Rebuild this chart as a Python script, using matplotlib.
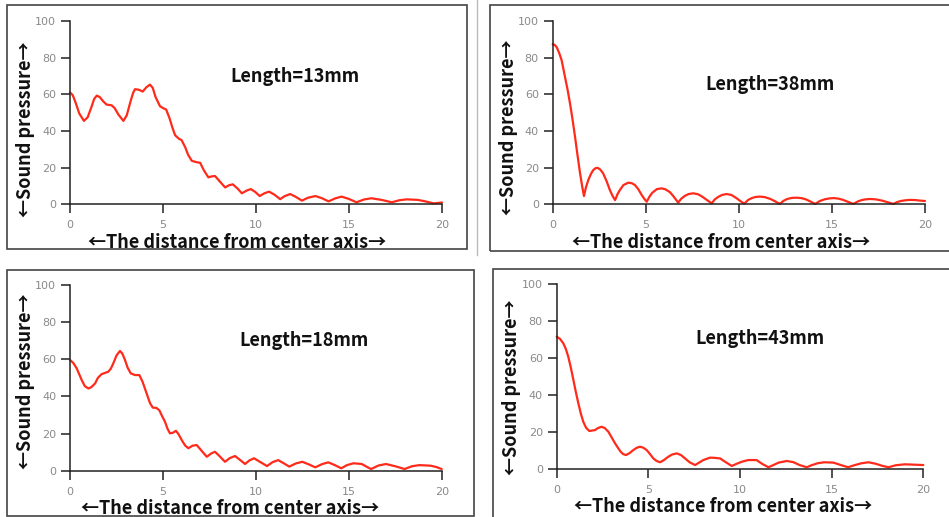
import matplotlib
matplotlib.use('Agg')
import matplotlib.pyplot as plt
from matplotlib.patches import Rectangle
from matplotlib.lines import Line2D

W, H = 949, 517
FONT = ['Noto Sans CJK KR', 'DejaVu Sans']

# sound pressure profiles across the distance from the center axis
x13 = [0, 0.15, 0.3, 0.5, 0.75, 0.95, 1.15, 1.3, 1.44, 1.6, 1.8, 1.97, 2.24, 2.4, 2.6, 2.87,
       3.05, 3.25, 3.4, 3.5, 3.7, 3.91, 4.1, 4.3, 4.45, 4.6, 4.84, 5.0, 5.17, 5.35, 5.5, 5.65,
       5.85, 6.0, 6.2, 6.35, 6.55, 6.8, 7.0, 7.2, 7.44, 7.65, 7.8, 8.05, 8.34, 8.55, 8.75, 9.0,
       9.24, 9.5, 9.72, 9.95, 10.2, 10.45, 10.7, 11.0, 11.3, 11.55, 11.84, 12.15, 12.47, 12.8,
       13.2, 13.55, 13.9, 14.25, 14.6, 15.0, 15.4, 15.8, 16.2, 16.75, 17.3, 17.7, 18.1, 18.7,
       19.1, 19.55, 20.0]
y13 = [61, 59.5, 55.5, 49.5, 45.5, 47.5, 53, 57.5, 59.3, 58.5, 56, 54.4, 54, 52.5, 49, 45.5,
       48.5, 56, 61, 62.8, 62.5, 61.5, 63.8, 65.3, 63.5, 58.5, 53.5, 52.5, 51.7, 47, 42, 37.7,
       35.8, 35, 31, 27, 23.7, 23, 22.6, 18.5, 14.7, 15.3, 15.4, 12.5, 9.2, 10.4, 10.9, 8.7,
       6.0, 7.5, 8.3, 6.8, 4.5, 6.0, 6.9, 5.2, 2.8, 4.5, 5.6, 4.0, 2.0, 3.6,
       4.5, 3.3, 1.6, 3.2, 4.2, 2.9, 1.1, 2.6, 3.3, 2.4, 1.1, 2.2, 2.7, 2.4,
       1.6, 0.5, 1.0]

x38 = [0, 0.1, 0.21, 0.35, 0.48, 0.66, 0.8, 0.93, 1.07, 1.2, 1.33, 1.47, 1.58, 1.68, 1.78,
       1.91, 2.05, 2.18, 2.3, 2.41, 2.55, 2.71, 2.9, 3.07, 3.22, 3.35, 3.48, 3.61, 3.8, 4.06,
       4.25, 4.42, 4.6, 4.78, 4.92, 5.05, 5.2, 5.35, 5.6, 5.85, 6.05, 6.3, 6.5, 6.74, 6.9, 7.1,
       7.3, 7.55, 7.8, 8.0, 8.25, 8.54, 8.7, 8.9, 9.1, 9.34, 9.6, 9.88, 10.05, 10.29, 10.5,
       10.7, 10.9, 11.14, 11.4, 11.7, 11.95, 12.2, 12.4, 12.6, 12.85, 13.1, 13.35, 13.6, 13.85,
       14.1, 14.35, 14.6, 14.85, 15.1, 15.35, 15.6, 15.9, 16.15, 16.4, 16.6, 16.8, 17.05,
       17.35, 17.7, 18.0, 18.3, 18.5, 18.7, 18.95, 19.2, 19.5, 19.75, 20.0]
y38 = [87.3, 87, 85.8, 82.5, 78.6, 69.5, 62.5, 55, 46, 36.8, 27, 16.9, 10, 4.5, 9,
       13.2, 16.5, 18.7, 19.7, 19.9, 19, 16.9, 12.5, 7.8, 4.5, 2.3, 5.5, 7.8, 10.5, 11.8,
       11.5, 10.5, 8.2, 5.1, 3.0, 1.4, 4.2, 6.3, 8.3, 8.7, 8.2, 6.6, 4.2, 0.9, 3.0, 4.6,
       5.6, 6.0, 5.5, 4.4, 2.6, 0.5, 2.6, 4.1, 5.1, 5.6, 5.1, 3.3, 2.0, 0.3, 2.4,
       3.4, 4.0, 4.2, 3.9, 2.9, 1.6, 0.2, 1.9, 2.9, 3.5, 3.6, 3.4, 2.7, 1.5,
       0.2, 1.8, 2.7, 3.2, 3.4, 3.1, 2.4, 1.2, 0.2, 1.6, 2.3, 2.7, 2.9,
       2.7, 2.0, 1.1, 0.2, 1.2, 1.8, 2.2, 2.4, 2.3, 2.0, 1.8]

x18 = [0, 0.18, 0.36, 0.63, 0.8, 0.99, 1.15, 1.35, 1.5, 1.7, 2.06, 2.2, 2.33, 2.5, 2.69, 2.82,
       2.96, 3.1, 3.27, 3.5, 3.73, 3.9, 4.12, 4.3, 4.45, 4.65, 4.81, 4.95, 5.11, 5.25, 5.38,
       5.55, 5.7, 5.85, 6.01, 6.2, 6.37, 6.6, 6.82, 7.1, 7.36, 7.6, 7.8, 8.05, 8.34, 8.6, 8.88,
       9.15, 9.42, 9.65, 9.9, 10.25, 10.6, 10.9, 11.2, 11.5, 11.8, 12.15, 12.5, 12.85, 13.2,
       13.55, 13.9, 14.25, 14.6, 14.9, 15.25, 15.7, 15.95, 16.2, 16.6, 17.0, 17.5, 18.0, 18.4,
       18.8, 19.4, 19.7, 20.0]
y18 = [59.6, 58, 55.1, 48.8, 45.5, 44.3, 45, 47, 50, 52, 53.3, 55, 57.8, 62, 64.5, 63,
       59.6, 55.5, 52.4, 51.5, 51.5, 48, 41.7, 36.5, 34, 33.8, 32.5, 29.5, 26.4, 22.5, 20.1,
       20.5, 21.5, 19.5, 16.5, 13.5, 12.1, 13.5, 13.8, 10.5, 7.5, 9.3, 10.2, 7.8, 4.8, 6.8, 7.9,
       5.8, 3.6, 5.5, 6.7, 4.6, 2.5, 4.6, 5.7, 4.0, 2.2, 3.9, 4.8, 3.4, 1.8,
       3.5, 4.5, 3.0, 1.3, 3.0, 4.0, 3.6, 2.2, 0.9, 2.8, 3.6, 2.4, 0.9, 2.4,
       3.0, 2.7, 2.0, 0.9]

x43 = [0, 0.18, 0.36, 0.5, 0.63, 0.77, 0.91, 1.05, 1.18, 1.32, 1.45, 1.6, 1.78, 2.09, 2.25,
       2.45, 2.62, 2.82, 3.0, 3.18, 3.35, 3.49, 3.63, 3.78, 3.98, 4.18, 4.36, 4.54, 4.72, 4.91,
       5.1, 5.27, 5.45, 5.64, 5.85, 6.09, 6.3, 6.55, 6.78, 7.0, 7.25, 7.55, 7.8, 8.0, 8.36, 8.6,
       8.91, 9.2, 9.55, 9.8, 10.1, 10.45, 10.9, 11.2, 11.55, 11.8, 12.1, 12.55, 12.9, 13.25,
       13.64, 13.9, 14.25, 14.6, 15.1, 15.5, 15.9, 16.2, 16.6, 17.0, 17.4, 17.75, 18.1, 18.5,
       19.0, 19.5, 20.0]
y43 = [71.7, 70.5, 68.1, 65, 60.9, 55, 48.3, 41.5, 35.7, 30, 25.7, 22.5, 20.7, 21.2, 22.3,
       23, 22.3, 20.3, 17.2, 14.1, 11.5, 9.5, 8.2, 7.7, 8.8, 10.4, 11.6, 12.2, 11.7, 10.4,
       8.1, 5.9, 4.5, 3.8, 5.0, 6.8, 8.0, 8.6, 7.7, 5.9, 3.8, 2.3, 3.8, 5.0, 6.3, 6.2,
       5.9, 4.0, 1.8, 2.9, 4.1, 5.0, 5.0, 3.0, 1.1, 2.2, 3.6, 4.5, 3.9, 2.3,
       1.1, 2.2, 3.3, 3.8, 3.6, 2.3, 1.1, 2.1, 3.2, 3.8, 3.0, 1.9, 1.1, 2.2,
       2.7, 2.5, 2.3]

lengths = ['Length=13mm', 'Length=38mm', 'Length=18mm', 'Length=43mm']
x_ticks = [0, 5, 10, 15, 20]
y_ticks = [0, 20, 40, 60, 80, 100]

# pixel layout of each panel: axes box (left, right, y0, y100), length label, x label, y label
panels = [
    dict(x=x13, y=y13, name=lengths[0], ax=(70, 442, 204.3, 21),
         tag=(295, 76), xl=(237, 242), yl=(26, 129)),
    dict(x=x38, y=y38, name=lengths[1], ax=(552.7, 925, 204.3, 21),
         tag=(770, 84), xl=(721, 243), yl=(508, 127)),
    dict(x=x18, y=y18, name=lengths[2], ax=(70, 441.7, 470.7, 285),
         tag=(304, 341), xl=(230, 508), yl=(26, 381)),
    dict(x=x43, y=y43, name=lengths[3], ax=(556.7, 923.3, 469.3, 284.3),
         tag=(760, 339), xl=(723, 506), yl=(512, 387)),
]

fig = plt.figure(figsize=(W / 100, H / 100), dpi=100)


def fx(px):
    return px / W


def fy(py):
    return 1 - py / H


# panel frames
frames = [(7, 5, 467, 249.5), (490, 5, 960, 251), (7, 270, 474, 516), (493, 269, 960, 530)]
for l, t, r, b in frames:
    fig.patches.append(Rectangle((fx(l), fy(b)), fx(r - l), (b - t) / H, transform=fig.transFigure,
                                 fill=False, edgecolor='#444444', linewidth=1.2))
fig.lines.append(Line2D([fx(476.5), fx(476.5)], [fy(0), fy(255)], transform=fig.transFigure,
                        color='#bbbbbb', linewidth=1.0))

for p in panels:
    l, r, y0, y100 = p['ax']
    ax = fig.add_axes([fx(l), fy(y0), fx(r - l), (y0 - y100) / H])
    ax.plot(p['x'], p['y'], color='#ff2a1a', linewidth=1.6, clip_on=False,
            solid_joinstyle='round', solid_capstyle='round')
    ax.set_xlim(0, 20)
    ax.set_ylim(0, 100)
    ax.set_xticks(x_ticks)
    ax.set_yticks(y_ticks)
    ax.patch.set_alpha(0)
    for s in ['top', 'right']:
        ax.spines[s].set_visible(False)
    for s in ['left', 'bottom']:
        ax.spines[s].set_color('#222222')
        ax.spines[s].set_linewidth(1.1)
    ax.tick_params(axis='x', length=6.5, width=1.1, color='#222222', pad=5,
                   labelsize=8, labelcolor='#8a8a8a')
    ax.tick_params(axis='y', length=6.5, width=1.1, color='#222222', pad=3.5,
                   labelsize=8, labelcolor='#8a8a8a')

    tx, ty = p['tag']
    fig.text(fx(tx), fy(ty), p['name'], ha='center', va='center', fontsize=13,
             fontweight='bold', family=FONT, color='#111111')
    lx, ly = p['xl']
    fig.text(fx(lx), fy(ly), '←The distance from center axis→', ha='center', va='center',
             fontsize=13, fontweight='bold', family=FONT, color='#111111')
    vx, vy = p['yl']
    fig.text(fx(vx), fy(vy), '←Sound pressure→', ha='center', va='center', rotation=90,
             fontsize=13, fontweight='bold', family=FONT, color='#111111')

fig.savefig('out.png', dpi=100)
